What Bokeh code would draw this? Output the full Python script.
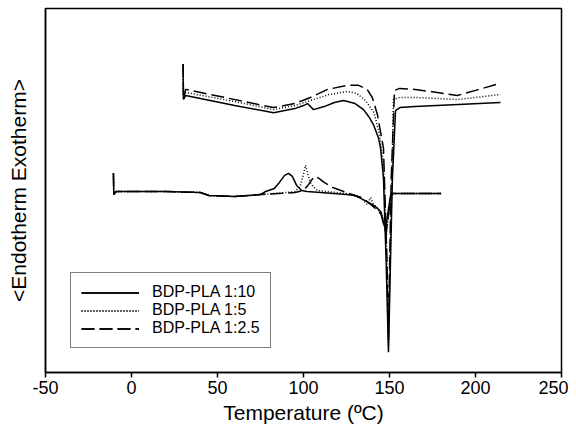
from bokeh.plotting import figure
from bokeh.models import Range1d, FixedTicker
from bokeh.embed import file_html
from bokeh.resources import INLINE

# ---- data (temperature in °C, heat flow in arbitrary units) ----
# upper set of curves (start at 30 °C)
up_solid_t = [30, 30.2, 31.5, 40, 60, 82.6, 95, 100, 102.3, 105.8, 112, 118, 123.3, 130, 134.9, 138,
              140.7, 143.6, 144.8, 146.5, 148, 149.4, 150.6, 151.7, 153.5, 156, 165, 190, 214.5]
up_solid_y = [305, 270, 274, 271, 264, 257, 261, 264, 266, 260, 263, 267, 269, 266, 260, 253,
              245, 232, 222, 192, 112, 20, 112, 192, 259, 262, 263, 265, 267]

up_dot_t = [30, 30.2, 31.5, 60, 82.6, 95, 104, 115, 125.6, 131, 136, 141, 144, 146.5, 148.5, 149.4,
            150.3, 151.5, 152.3, 156, 165, 189.5, 200, 214.5]
up_dot_y = [305, 270, 277, 268, 260, 264, 269, 275, 278, 276, 269, 257, 237, 207, 112, 27,
            112, 192, 270, 272, 272, 270, 272, 275]

up_dash_t = [30, 30.2, 31.5, 82.6, 95, 104, 114, 125.6, 132, 137, 140, 143, 146.5, 148.5, 149.4,
             150.1, 151, 152.9, 156, 165, 189.5, 200, 214.5]
up_dash_y = [305, 270, 280, 262, 266, 272, 280, 284, 284, 280, 272, 255, 222, 112, 32,
             112, 192, 279, 281, 280, 274, 279, 286]

# lower set of curves (start at -10 °C)
lo_solid_t = [-10.5, -10.3, -9, 20, 40, 45, 60, 75, 78, 83, 86, 89, 91.3, 93.5, 96, 99, 102, 110,
              125, 130, 137, 142, 145, 147.7, 149, 150.6, 152, 180]
lo_solid_y = [197, 176, 179, 179, 178, 175, 174, 176, 179, 182, 188, 195, 197, 194, 185, 180, 179, 178,
              176, 175, 169, 164, 159, 140, 157, 175, 177, 177]

lo_dot_t = [-10.5, -10.3, -9, 20, 40, 45, 60, 75, 90, 95, 98, 100, 101.2, 102.5, 104.5, 108, 125,
            134, 137, 139, 140.5, 143, 146, 148.2, 149.5, 151, 180]
lo_dot_y = [197, 176, 179, 179, 178, 175, 174, 176, 178, 179, 184, 196, 205, 196, 186, 180, 177,
            172, 166, 173, 167, 162, 154, 136, 157, 177, 177]

lo_dash_t = [-10.5, -10.3, -9, 20, 40, 45, 60, 75, 95, 100, 103, 105, 107, 109, 112, 117, 125,
             134, 140, 145, 148, 149.5, 151, 180]
lo_dash_y = [197, 176, 179, 179, 178, 175, 174, 176, 178, 180, 186, 191, 194, 192, 188, 183, 178,
             173, 165, 157, 138, 157, 177, 177]

labels = ["BDP-PLA 1:10", "BDP-PLA 1:5", "BDP-PLA 1:2.5"]
x_ticks = [-50, 0, 50, 100, 150, 200, 250]
x_tick_labels = ["-50", "0", "50", "100", "150", "200", "250"]

FONT = "Liberation Sans"

p = figure(width=568, height=428, output_backend="svg", toolbar_location=None,
           x_range=Range1d(-50, 250), y_range=Range1d(0, 360),
           min_border_left=45, min_border_right=7, min_border_top=8, min_border_bottom=56)

p.xgrid.visible = False
p.ygrid.visible = False
p.outline_line_color = "black"
p.outline_line_width = 1.5
p.background_fill_color = "white"
p.border_fill_color = "white"

xa = p.xaxis[0]
xa.ticker = FixedTicker(ticks=x_ticks)
xa.major_label_overrides = {t: s for t, s in zip(x_ticks, x_tick_labels)}
xa.axis_label = "Temperature (ºC)"
xa.axis_label_text_font = FONT
xa.axis_label_text_font_size = "21px"
xa.axis_label_text_font_style = "normal"
xa.axis_label_standoff = 4
xa.major_label_text_font = FONT
xa.major_label_text_font_size = "18px"
xa.major_label_standoff = 3
xa.major_tick_out = 5
xa.major_tick_in = 0
xa.minor_tick_out = 0
xa.minor_tick_in = 0
xa.axis_line_width = 1.5
xa.major_tick_line_width = 1.5
xa.axis_label_text_color = "black"
xa.major_label_text_color = "black"

ya = p.yaxis[0]
ya.ticker = FixedTicker(ticks=[])
ya.axis_label = "<Endotherm Exotherm>"
ya.axis_label_text_font = FONT
ya.axis_label_text_font_size = "21px"
ya.axis_label_text_font_style = "normal"
ya.axis_label_text_color = "black"
ya.axis_label_standoff = 16
ya.major_tick_out = 0
ya.major_tick_in = 0
ya.minor_tick_out = 0
ya.minor_tick_in = 0
ya.axis_line_width = 1.5

styles = [dict(line_dash="solid"), dict(line_dash="1 2"), dict(line_dash="13 5")]
ups = [(up_solid_t, up_solid_y), (up_dot_t, up_dot_y), (up_dash_t, up_dash_y)]
los = [(lo_solid_t, lo_solid_y), (lo_dot_t, lo_dot_y), (lo_dash_t, lo_dash_y)]

for (ut, uy), (lt, ly), st, lab in zip(ups, los, styles, labels):
    p.line(ut, uy, line_color="black", line_width=1.5, legend_label=lab, **st)
    p.line(lt, ly, line_color="black", line_width=1.5, legend_label=lab, **st)

lg = p.legend[0]
lg.location = (25, 24)
lg.border_line_color = "black"
lg.border_line_width = 1.5
lg.background_fill_color = "white"
lg.background_fill_alpha = 1.0
lg.label_text_font = FONT
lg.label_text_font_size = "16px"
lg.label_text_color = "black"
lg.glyph_width = 58
lg.glyph_height = 17
lg.label_height = 17
lg.label_standoff = 13
lg.padding = 10
lg.spacing = 0
lg.margin = 0

open("out.html", "w").write(file_html(p, INLINE))
